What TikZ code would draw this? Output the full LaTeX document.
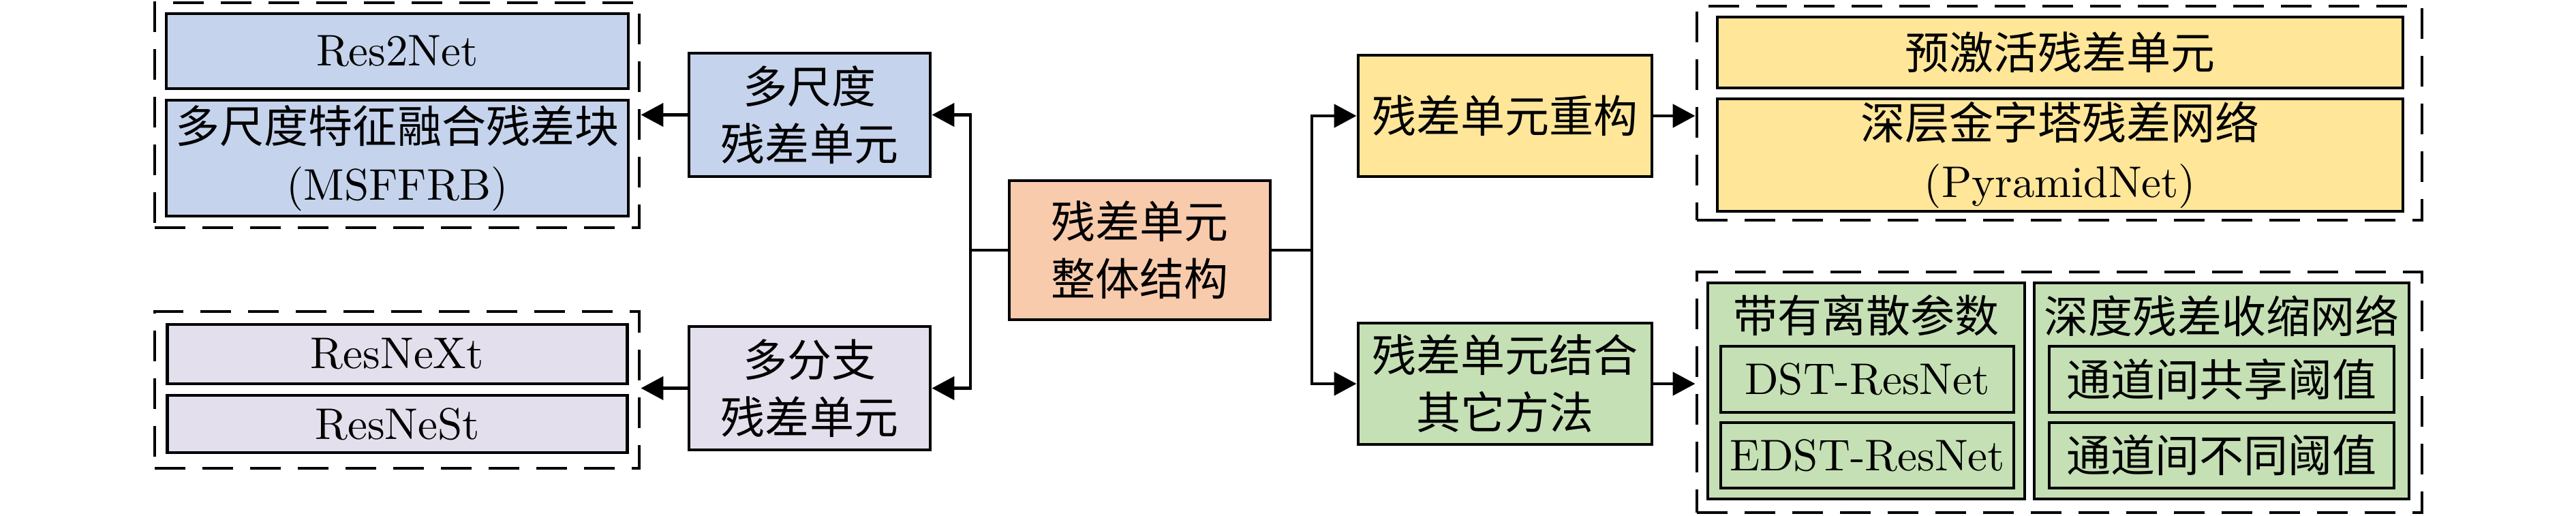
\documentclass[tikz,border=0pt]{standalone}
\usepackage{fontspec}
\setmainfont{lmroman10-regular.otf}
\newfontfamily\cjk{Noto Sans CJK SC}
\usetikzlibrary{arrows.meta}

\definecolor{cblue}{RGB}{197,211,236}
\definecolor{cpurple}{RGB}{228,223,236}
\definecolor{corange}{RGB}{248,203,173}
\definecolor{cyellow}{RGB}{255,230,153}
\definecolor{cgreen}{RGB}{197,224,180}

\tikzset{
  box/.style={draw,line width=1.4pt,align=center,inner sep=0pt,
              font=\fontsize{18.5}{24}\selectfont},
  dashbox/.style={draw,line width=1.4pt,dash pattern=on 0.45cm off 0.25cm,
                  inner sep=0pt},
  arr/.style={line width=1.4pt,-{Triangle[length=0.33cm,width=0.34cm]}},
}

\begin{document}
\begin{tikzpicture}
\useasboundingbox (0,0) rectangle (37.8,-7.56);

% dashed frames
\begin{scope}[every node/.style={dashbox}]
    \node[minimum width=7.11cm,minimum height=3.30cm] (L1) at (5.825,-1.69) {};
    \node[minimum width=7.11cm,minimum height=2.30cm] (L2) at (5.825,-5.72) {};
    \node[minimum width=10.64cm,minimum height=3.14cm] (R1) at (30.22,-1.66) {};
    \node[minimum width=10.64cm,minimum height=3.53cm] (R2) at (30.22,-5.755) {};
\end{scope}

\begin{scope}[every node/.style={box}]
    \node[fill=corange,minimum width=3.83cm,minimum height=2.04cm] (whole) at (16.725,-3.67) {\cjk 残差单元\\\cjk 整体结构};
    % left side
    \node[fill=cblue,minimum width=3.54cm,minimum height=1.81cm] (ms) at (11.88,-1.685) {\cjk 多尺度\\\cjk 残差单元};
    \node[fill=cpurple,minimum width=3.54cm,minimum height=1.81cm] (mb) at (11.88,-5.695) {\cjk 多分支\\\cjk 残差单元};
    \node[fill=cblue,minimum width=6.78cm,minimum height=1.10cm] (res2net) at (5.83,-0.75) {Res2Net};
    \node[fill=cblue,minimum width=6.78cm,minimum height=1.70cm] (msffrb) at (5.83,-2.32) {{\cjk 多尺度特征融合残差块}\\(MSFFRB)};
    \node[fill=cpurple,minimum width=6.75cm,minimum height=0.87cm] (resnext) at (5.83,-5.195) {ResNeXt};
    \node[fill=cpurple,minimum width=6.75cm,minimum height=0.84cm] (resnest) at (5.83,-6.22) {ResNeSt};
    % right side
    \node[fill=cyellow,minimum width=4.31cm,minimum height=1.78cm] (rebuild) at (22.085,-1.70) {\cjk 残差单元重构};
    \node[fill=cgreen,minimum width=4.31cm,minimum height=1.78cm] (combine) at (22.085,-5.63) {\cjk 残差单元结合\\\cjk 其它方法};
    \node[fill=cyellow,minimum width=10.06cm,minimum height=1.04cm] (preact) at (30.23,-0.77) {\cjk 预激活残差单元};
    \node[fill=cyellow,minimum width=10.06cm,minimum height=1.65cm] (pyramid) at (30.23,-2.275) {{\cjk 深层金字塔残差网络}\\(PyramidNet)};
    \node[fill=cgreen,minimum width=4.65cm,minimum height=3.17cm] (grpA) at (27.385,-5.735) {};
    \node[fill=cgreen,minimum width=5.50cm,minimum height=3.17cm] (grpB) at (32.60,-5.735) {};
    \node[fill=cgreen,minimum width=4.30cm,minimum height=0.97cm] (dst) at (27.40,-5.565) {DST-ResNet};
    \node[fill=cgreen,minimum width=4.30cm,minimum height=0.96cm] (edst) at (27.40,-6.68) {EDST-ResNet};
    \node[fill=cgreen,minimum width=5.06cm,minimum height=0.97cm] (share) at (32.60,-5.565) {\cjk 通道间共享阈值};
    \node[fill=cgreen,minimum width=5.06cm,minimum height=0.96cm] (differ) at (32.60,-6.68) {\cjk 通道间不同阈值};
\end{scope}

\node[box,draw=none] (titleA) at (27.385,-4.63) {\cjk 带有离散参数};
\node[box,draw=none] (titleB) at (32.60,-4.63) {\cjk 深度残差收缩网络};

% connectors
\coordinate (jl) at (14.24,-3.67);
\coordinate (jr) at (19.25,-3.67);
\draw[line width=1.4pt] (whole.west) -- (jl);
\draw[arr] (jl) |- (ms.east);
\draw[arr] (jl) |- (mb.east);
\draw[arr] (ms.west) -- (ms.west -| L1.east);
\draw[arr] (mb.west) -- (mb.west -| L2.east);
\draw[line width=1.4pt] (whole.east) -- (jr);
\draw[arr] (jr) |- (rebuild.west);
\draw[arr] (jr) |- (combine.west);
\draw[arr] (rebuild.east) -- (rebuild.east -| R1.west);
\draw[arr] (combine.east) -- (combine.east -| R2.west);
\end{tikzpicture}
\end{document}
